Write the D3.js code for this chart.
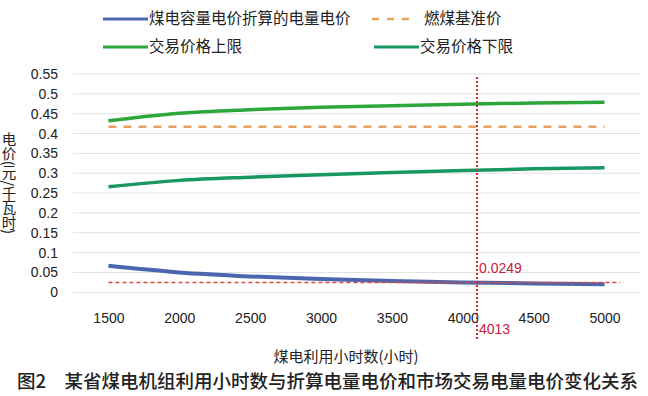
<!DOCTYPE html>
<html>
<head>
<meta charset="utf-8">
<script src="https://cdn.jsdelivr.net/npm/d3@7"></script>
<style>
  body { margin: 0; background: #fff; }
  svg { display: block; font-family: "Liberation Sans", "Noto Sans CJK SC", sans-serif; }
</style>
</head>
<body>
<div class="chart"></div>
<script>
// hours of use (x categories)
const hours = [1500, 2000, 2500, 3000, 3500, 4000, 4500, 5000];
// 煤电容量电价折算的电量电价
const capacityPrice = [0.0667, 0.05, 0.04, 0.0333, 0.0286, 0.025, 0.0222, 0.02];
// 燃煤基准价
const benchmark = [0.417, 0.417, 0.417, 0.417, 0.417, 0.417, 0.417, 0.417];
// 交易价格上限 / 下限
const upperLimit = [0.432, 0.451, 0.46, 0.466, 0.47, 0.474, 0.477, 0.479];
const lowerLimit = [0.266, 0.282, 0.29, 0.296, 0.302, 0.307, 0.311, 0.314];
const yTicks = [0, 0.05, 0.1, 0.15, 0.2, 0.25, 0.3, 0.35, 0.4, 0.45, 0.5, 0.55];
// annotation: crossing point (drawn position / label)
const crossHour = 4100, crossHourLabel = '4013';
const crossPrice = 0.0249, crossPriceLabel = '0.0249';

const width = 648, height = 396;

const svg = d3.select('.chart').append('svg')
  .attr('width', width)
  .attr('height', height);

const x = d3.scaleLinear().domain([1250, 5250]).range([73, 640]);
const y = d3.scaleLinear().domain([0, 0.55]).range([292.3, 74]);

// gridlines
svg.append('g')
  .selectAll('line')
  .data(yTicks)
  .join('line')
  .attr('x1', 73).attr('x2', 640)
  .attr('y1', d => y(d)).attr('y2', d => y(d))
  .attr('stroke', '#e2e2e2')
  .attr('stroke-width', 1);

// y axis labels
const yAxis = svg.append('g')
  .attr('transform', 'translate(60,0)')
  .call(d3.axisLeft(y).tickValues(yTicks).tickSize(0).tickPadding(2).tickFormat(d => String(+d.toFixed(2))));
yAxis.select('.domain').remove();
yAxis.selectAll('text').attr('font-size', 14).attr('fill', '#222').attr('font-family', '"Liberation Sans", sans-serif');

// x axis labels
const xAxis = svg.append('g')
  .attr('transform', 'translate(0,' + 310 + ')')
  .call(d3.axisBottom(x).tickValues(hours).tickSize(0).tickPadding(3).tickFormat(d3.format('d')));
xAxis.select('.domain').remove();
xAxis.selectAll('text').attr('font-size', 14).attr('fill', '#222').attr('font-family', '"Liberation Sans", sans-serif');

// axis titles
svg.append('text')
  .attr('x', 9).attr('y', 183)
  .attr('writing-mode', 'vertical-rl')
  .attr('text-anchor', 'middle')
  .attr('font-size', 14.5)
  .attr('fill', '#222')
  .style('font-family', '"Noto Sans CJK SC", sans-serif')
  .text('电价(元/千瓦时)');

svg.append('text')
  .attr('x', 346).attr('y', 362)
  .attr('text-anchor', 'middle')
  .attr('font-size', 15)
  .attr('fill', '#222')
  .style('font-family', '"Noto Sans CJK SC", sans-serif')
  .text('煤电利用小时数(小时)');

// series
const series = [
  {name: '交易价格上限', values: upperLimit, color: '#2fa63c', width: 3.5, dash: null},
  {name: '交易价格下限', values: lowerLimit, color: '#179862', width: 3.5, dash: null},
  {name: '燃煤基准价', values: benchmark, color: '#e9a15e', width: 2.5, dash: '8,7'},
  {name: '煤电容量电价折算的电量电价', values: capacityPrice, color: '#4b66ae', width: 4, dash: null}
];

const line = d3.line()
  .x((d, i) => x(hours[i]))
  .y(d => y(d))
  .curve(d3.curveMonotoneX);

svg.append('g')
  .selectAll('path')
  .data(series)
  .join('path')
  .attr('d', d => line(d.values))
  .attr('fill', 'none')
  .attr('stroke', d => d.color)
  .attr('stroke-width', d => d.width)
  .attr('stroke-dasharray', d => d.dash);

// annotation lines
svg.append('line')
  .attr('x1', x(hours[0])).attr('x2', x(5110))
  .attr('y1', y(crossPrice)).attr('y2', y(crossPrice))
  .attr('stroke', '#e0483a')
  .attr('stroke-width', 1.5)
  .attr('stroke-dasharray', '4,3');

svg.append('line')
  .attr('x1', x(crossHour)).attr('x2', x(crossHour))
  .attr('y1', y(0.55) + 3).attr('y2', 341)
  .attr('stroke', '#cc2a36')
  .attr('stroke-width', 2)
  .attr('stroke-dasharray', '2,2');

svg.append('text')
  .attr('x', x(crossHour) + 2).attr('y', 273)
  .attr('font-size', 14)
  .attr('fill', '#c4213c')
  .text(crossPriceLabel);

svg.append('text')
  .attr('x', x(crossHour) + 2).attr('y', 334)
  .attr('font-size', 14)
  .attr('fill', '#c4213c')
  .text(crossHourLabel);

// legend
const legendItems = [
  {s: series[3], lx: 103, row: 0},
  {s: series[2], lx: 372, row: 0},
  {s: series[0], lx: 103, row: 1},
  {s: series[1], lx: 374, row: 1}
];
const legend = svg.append('g').selectAll('g')
  .data(legendItems)
  .join('g')
  .attr('transform', d => 'translate(' + d.lx + ',' + (19 + d.row * 28) + ')');

legend.append('line')
  .attr('x1', 0).attr('x2', 45)
  .attr('stroke', d => d.s.color)
  .attr('stroke-width', d => d.s.dash ? 2.5 : 3)
  .attr('stroke-dasharray', d => d.s.dash ? '7,8' : null);

legend.append('text')
  .attr('x', d => d.s.dash ? 52 : 46)
  .attr('dy', '0.35em')
  .attr('font-size', 15.5)
  .attr('fill', '#222')
  .style('font-family', '"Noto Sans CJK SC", sans-serif')
  .text(d => d.s.name);

// caption
svg.append('text')
  .attr('x', 17).attr('y', 388)
  .attr('font-size', 18.5)
  .attr('font-weight', 500)
  .attr('fill', '#222')
  .style('font-family', '"Noto Sans CJK SC", sans-serif')
  .text('图2　某省煤电机组利用小时数与折算电量电价和市场交易电量电价变化关系');
</script>
</body>
</html>
